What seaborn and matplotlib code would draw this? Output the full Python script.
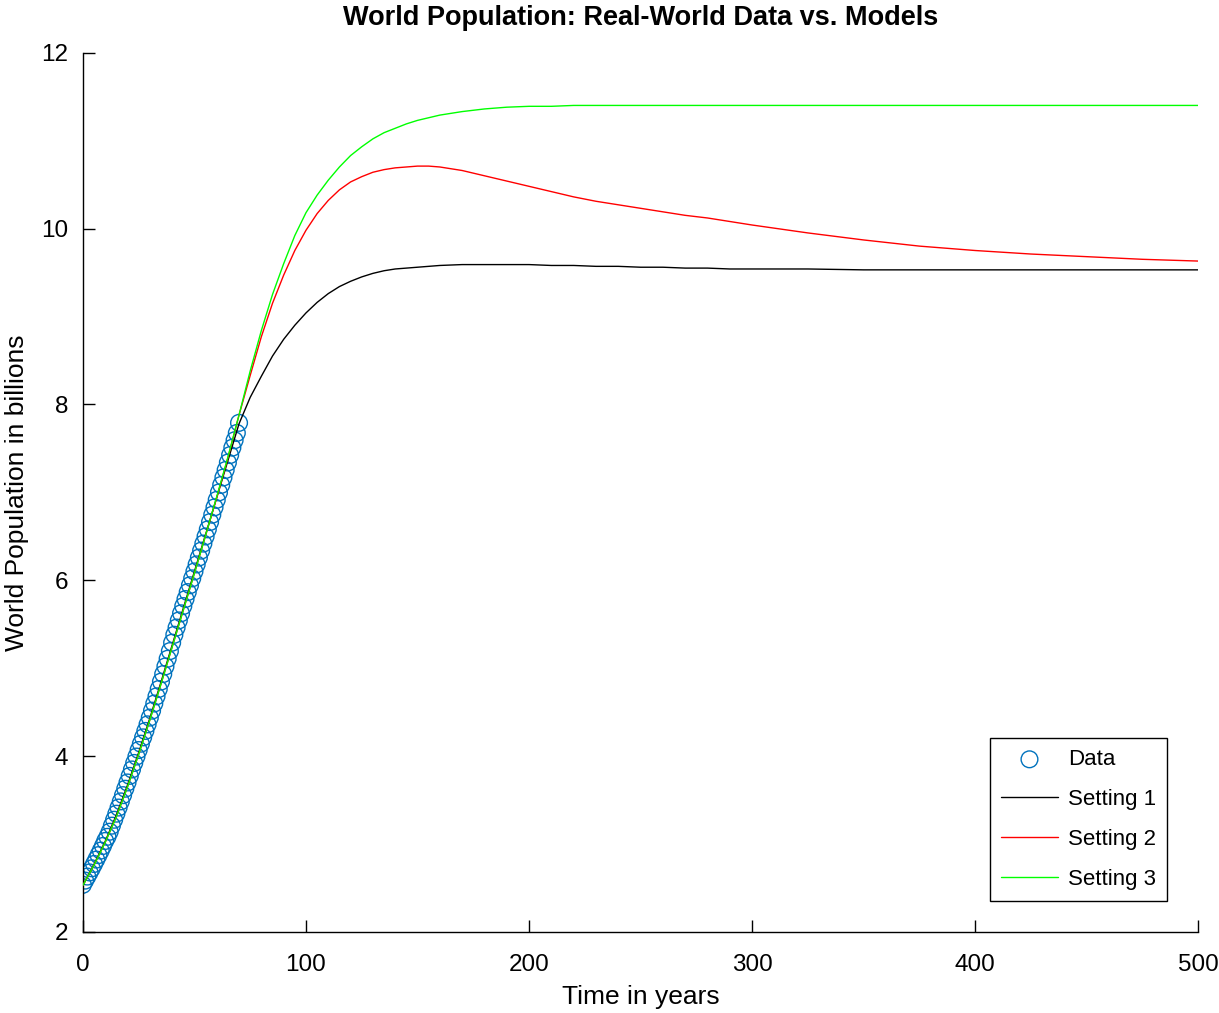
import matplotlib
matplotlib.use('Agg')
import matplotlib.pyplot as plt
import seaborn as sns
import pandas as pd

# Dados reais: população mundial (bilhões), anos desde 1950
anos = list(range(0, 71))
populacao = [2.536, 2.584, 2.630, 2.677, 2.724, 2.773, 2.823, 2.874, 2.925, 2.978,
             3.035, 3.082, 3.140, 3.209, 3.276, 3.345, 3.415, 3.485, 3.556, 3.629,
             3.700, 3.775, 3.848, 3.922, 3.995, 4.069, 4.141, 4.213, 4.286, 4.361,
             4.438, 4.517, 4.598, 4.680, 4.763, 4.847, 4.933, 5.020, 5.107, 5.194,
             5.290, 5.380, 5.462, 5.543, 5.624, 5.706, 5.786, 5.865, 5.943, 6.021,
             6.100, 6.180, 6.258, 6.337, 6.417, 6.498, 6.579, 6.662, 6.745, 6.829,
             6.914, 6.999, 7.084, 7.169, 7.254, 7.339, 7.424, 7.508, 7.592, 7.675,
             7.790]

# Modelos
t_modelo = [0, 5, 10, 15, 20, 25, 30, 35, 40, 45, 50, 55, 60, 65, 70, 75, 80, 85, 90,
            95, 100, 105, 110, 115, 120, 125, 130, 135, 140, 145, 150, 155, 160, 170,
            180, 190, 200, 210, 220, 230, 240, 250, 260, 270, 280, 290, 300, 325, 350,
            375, 400, 425, 450, 475, 500]
setting1 = [2.53, 2.77, 3.03, 3.33, 3.67, 4.04, 4.43, 4.84, 5.26, 5.68, 6.10, 6.52,
            6.94, 7.36, 7.78, 8.08, 8.32, 8.55, 8.74, 8.90, 9.04, 9.16, 9.26, 9.34,
            9.40, 9.45, 9.49, 9.52, 9.54, 9.55, 9.56, 9.57, 9.58, 9.59, 9.59, 9.59,
            9.59, 9.58, 9.58, 9.57, 9.57, 9.56, 9.56, 9.55, 9.55, 9.54, 9.54, 9.54,
            9.53, 9.53, 9.53, 9.53, 9.53, 9.53, 9.53]
setting2 = [2.53, 2.76, 3.02, 3.31, 3.65, 4.02, 4.41, 4.82, 5.24, 5.66, 6.08, 6.51,
            6.94, 7.39, 7.88, 8.33, 8.77, 9.15, 9.47, 9.75, 9.98, 10.17, 10.32, 10.44,
            10.53, 10.59, 10.64, 10.67, 10.69, 10.70, 10.71, 10.71, 10.70, 10.66,
            10.60, 10.54, 10.48, 10.42, 10.36, 10.31, 10.27, 10.23, 10.19, 10.15,
            10.12, 10.08, 10.04, 9.95, 9.87, 9.80, 9.75, 9.71, 9.68, 9.65, 9.63]
setting3 = [2.53, 2.76, 3.02, 3.31, 3.65, 4.02, 4.41, 4.82, 5.24, 5.66, 6.08, 6.51,
            6.95, 7.40, 7.88, 8.38, 8.84, 9.25, 9.60, 9.92, 10.18, 10.38, 10.55, 10.70,
            10.83, 10.93, 11.02, 11.09, 11.14, 11.19, 11.23, 11.26, 11.29, 11.33,
            11.36, 11.38, 11.39, 11.39, 11.40, 11.40, 11.40, 11.40, 11.40, 11.40,
            11.40, 11.40, 11.40, 11.40, 11.40, 11.40, 11.40, 11.40, 11.40, 11.40,
            11.40]

df_dados = pd.DataFrame({'t': anos, 'pop': populacao})
df_modelos = pd.DataFrame({'t': t_modelo, 'Setting 1': setting1,
                           'Setting 2': setting2, 'Setting 3': setting3})

sns.set_style('white')
plt.rcParams['font.family'] = ['Liberation Sans', 'DejaVu Sans']
plt.rcParams['text.color'] = 'black'
plt.rcParams['axes.labelcolor'] = 'black'

fig = plt.figure(figsize=(12.19, 10.13), dpi=100)
ax = fig.add_axes([0.068, 0.080, 0.915, 0.868])

sns.scatterplot(data=df_dados, x='t', y='pop', marker='o', s=145,
                facecolors='none', edgecolor='#0072BD', linewidth=1.0,
                label='Data', ax=ax, zorder=2)
cores = {'Setting 1': 'black', 'Setting 2': 'red', 'Setting 3': '#00FF00'}
for nome, cor in cores.items():
    sns.lineplot(data=df_modelos, x='t', y=nome, color=cor, linewidth=1.0,
                 label=nome, ax=ax, zorder=3)

ax.set_xlim(0, 500)
ax.set_ylim(2, 12)
ax.set_xticks([0, 100, 200, 300, 400, 500])
ax.set_yticks([2, 4, 6, 8, 10, 12])
ax.tick_params(bottom=True, left=True, direction='in', length=8.5, width=1,
               labelsize=17.5, colors='black')
ax.tick_params(axis='x', pad=16)
ax.tick_params(axis='y', pad=10.5)
sns.despine(ax=ax)
for lado in ['left', 'bottom']:
    ax.spines[lado].set_color('black')
    ax.spines[lado].set_linewidth(1)

ax.set_xlabel('Time in years', fontsize=19, labelpad=6)
ax.set_ylabel('World Population in billions', fontsize=19, labelpad=9)
ax.set_title('World Population: Real-World Data vs. Models', fontsize=19.5,
             fontweight='bold', pad=20)

leg = ax.legend(loc='lower right', bbox_to_anchor=(0.972, 0.0353), borderaxespad=0,
                fontsize=16, frameon=True, fancybox=False, edgecolor='black',
                framealpha=1, handlelength=2.55, borderpad=0.5, labelspacing=0.85,
                handletextpad=0.45)
leg.get_frame().set_linewidth(1)

fig.savefig('out.png', dpi=100)
